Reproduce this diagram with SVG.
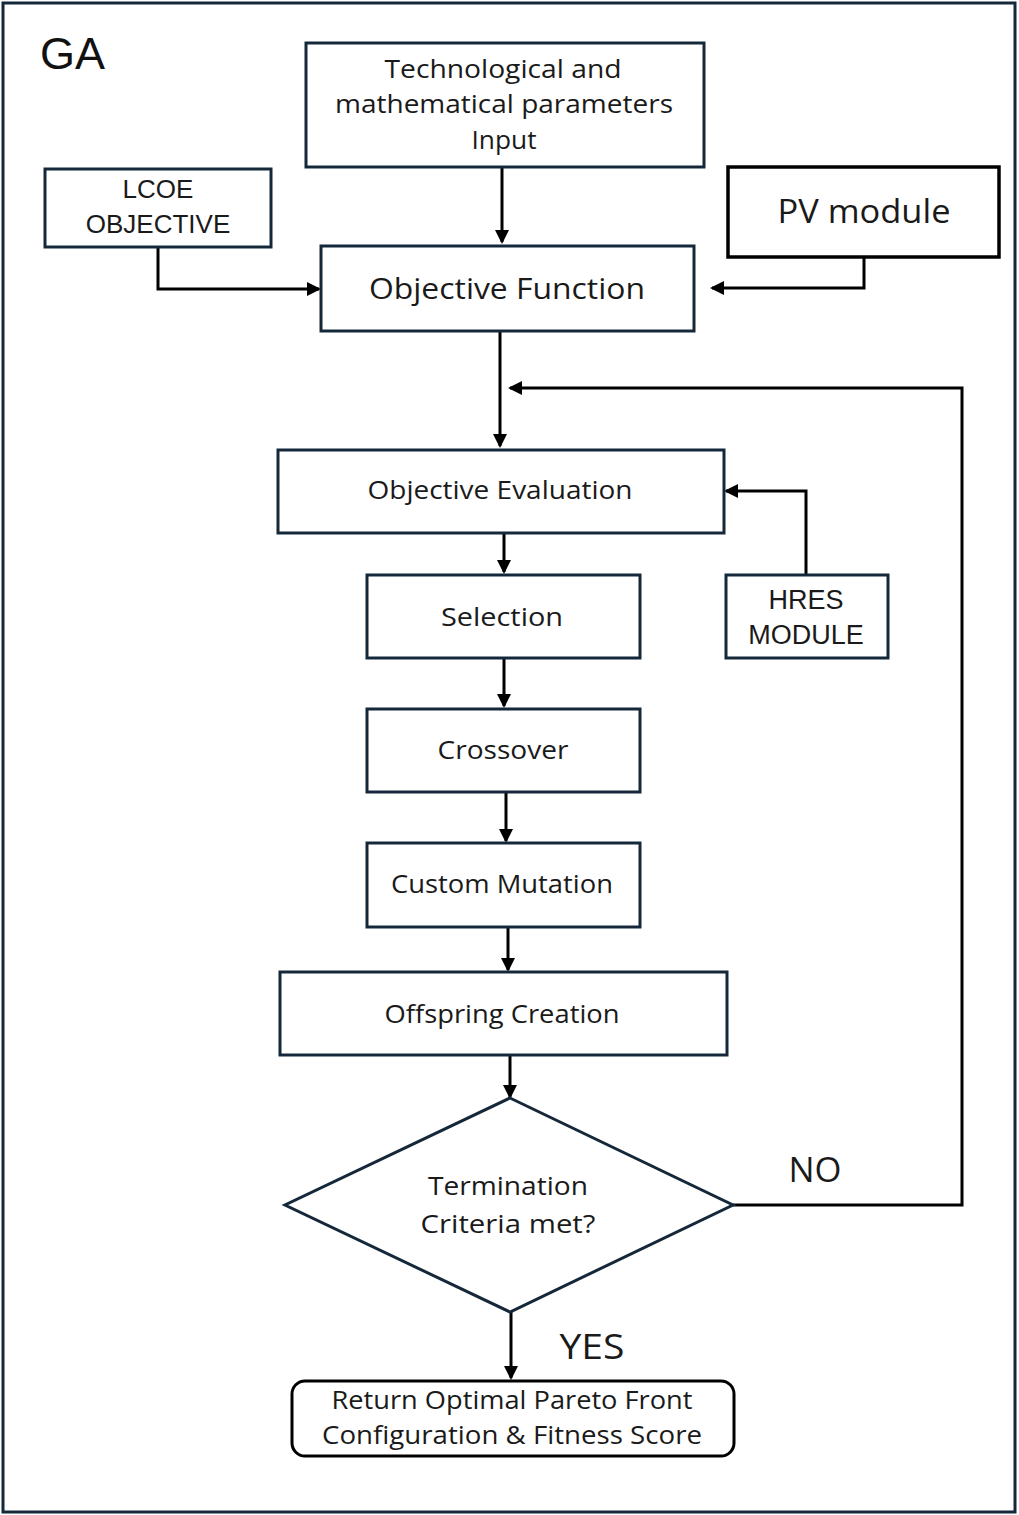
<svg xmlns="http://www.w3.org/2000/svg" width="1019" height="1515" viewBox="0 0 1019 1515">
<defs>
<marker id="ah" markerWidth="14" markerHeight="14" refX="12" refY="7" orient="auto" markerUnits="userSpaceOnUse">
<path d="M0,0 L14,7 L0,14 z" fill="#000"/>
</marker>
<style>
.box{fill:#fff;stroke:#15283a;stroke-width:3}
.blk{fill:#fff;stroke:#000;stroke-width:3.5}
.t{font-family:"Open Sans","Noto Sans",sans-serif;fill:#1a1a1a;text-anchor:middle}
.a{font-family:"Liberation Sans",Arial,sans-serif;fill:#1a1a1a;text-anchor:middle}
.c{fill:none;stroke:#000;stroke-width:3}
</style>
</defs>
<rect x="3" y="3" width="1012" height="1509" fill="#fff" stroke="#15283a" stroke-width="3"/>
<text x="40" y="69" font-family="Liberation Sans, Arial, sans-serif" font-size="45" fill="#111">GA</text>

<g id="connectors">
<path class="c" d="M502,167 V242" marker-end="url(#ah)"/>
<path class="c" d="M158,247 V289 H319" marker-end="url(#ah)"/>
<path class="c" d="M864,257 V288 H712" marker-end="url(#ah)"/>
<path class="c" d="M500,331 V446" marker-end="url(#ah)"/>
<path class="c" d="M733,1205 H962 V388 H510" marker-end="url(#ah)"/>
<path class="c" d="M806,575 V491 H726" marker-end="url(#ah)"/>
<path class="c" d="M504,533 V572" marker-end="url(#ah)"/>
<path class="c" d="M504,658 V706" marker-end="url(#ah)"/>
<path class="c" d="M506,792 V841" marker-end="url(#ah)"/>
<path class="c" d="M508,927 V970" marker-end="url(#ah)"/>
<path class="c" d="M510,1055 V1097" marker-end="url(#ah)"/>
<path class="c" d="M511,1312 V1378" marker-end="url(#ah)"/>
</g>

<g id="tech">
<rect class="box" x="306" y="43" width="398" height="124"/>
<text class="t" x="503" y="78" font-size="26" textLength="237" lengthAdjust="spacingAndGlyphs">Technological and</text>
<text class="t" x="504" y="113" font-size="26" textLength="338" lengthAdjust="spacingAndGlyphs">mathematical parameters</text>
<text class="t" x="504" y="149" font-size="26" textLength="65" lengthAdjust="spacingAndGlyphs">Input</text>
</g>
<g id="lcoe">
<rect class="box" x="45" y="169" width="226" height="78"/>
<text class="a" x="158" y="198" font-size="26">LCOE</text>
<text class="a" x="158" y="233" font-size="26">OBJECTIVE</text>
</g>
<g id="objfunc">
<rect class="box" x="321" y="246" width="373" height="85"/>
<text class="t" x="507" y="299" font-size="30" textLength="276" lengthAdjust="spacingAndGlyphs">Objective Function</text>
</g>
<g id="pv">
<rect class="blk" x="728" y="167" width="271" height="90"/>
<text class="t" x="864" y="223" font-size="32" textLength="173" lengthAdjust="spacingAndGlyphs">PV module</text>
</g>
<g id="objeval">
<rect class="box" x="278" y="450" width="446" height="83"/>
<text class="t" x="500" y="499" font-size="26" textLength="265" lengthAdjust="spacingAndGlyphs">Objective Evaluation</text>
</g>
<g id="hres">
<rect class="box" x="726" y="575" width="162" height="83"/>
<text class="a" x="806" y="609" font-size="27">HRES</text>
<text class="a" x="806" y="644" font-size="27">MODULE</text>
</g>
<g id="selection">
<rect class="box" x="367" y="575" width="273" height="83"/>
<text class="t" x="502" y="626" font-size="26" textLength="122" lengthAdjust="spacingAndGlyphs">Selection</text>
</g>
<g id="crossover">
<rect class="box" x="367" y="709" width="273" height="83"/>
<text class="t" x="503" y="759" font-size="26" textLength="131" lengthAdjust="spacingAndGlyphs">Crossover</text>
</g>
<g id="mutation">
<rect class="box" x="367" y="843" width="273" height="84"/>
<text class="t" x="502" y="893" font-size="26" textLength="222" lengthAdjust="spacingAndGlyphs">Custom Mutation</text>
</g>
<g id="offspring">
<rect class="box" x="280" y="972" width="447" height="83"/>
<text class="t" x="502" y="1023" font-size="26" textLength="235" lengthAdjust="spacingAndGlyphs">Offspring Creation</text>
</g>
<g id="termination">
<polygon class="box" points="510,1098 733,1205 510,1312 285,1205"/>
<text class="t" x="508" y="1195" font-size="26" textLength="160" lengthAdjust="spacingAndGlyphs">Termination</text>
<text class="t" x="508" y="1233" font-size="26" textLength="175" lengthAdjust="spacingAndGlyphs">Criteria met?</text>
</g>
<text class="t" x="815" y="1182" font-size="34" textLength="53" lengthAdjust="spacingAndGlyphs">NO</text>
<text class="t" x="592" y="1359" font-size="34" textLength="65" lengthAdjust="spacingAndGlyphs">YES</text>
<g id="return">
<rect x="292" y="1381" width="442" height="75" rx="13" fill="#fff" stroke="#000" stroke-width="3"/>
<text class="t" x="512" y="1409" font-size="26" textLength="361" lengthAdjust="spacingAndGlyphs">Return Optimal Pareto Front</text>
<text class="t" x="512" y="1444" font-size="26" textLength="380" lengthAdjust="spacingAndGlyphs">Configuration &amp; Fitness Score</text>
</g>
</svg>
